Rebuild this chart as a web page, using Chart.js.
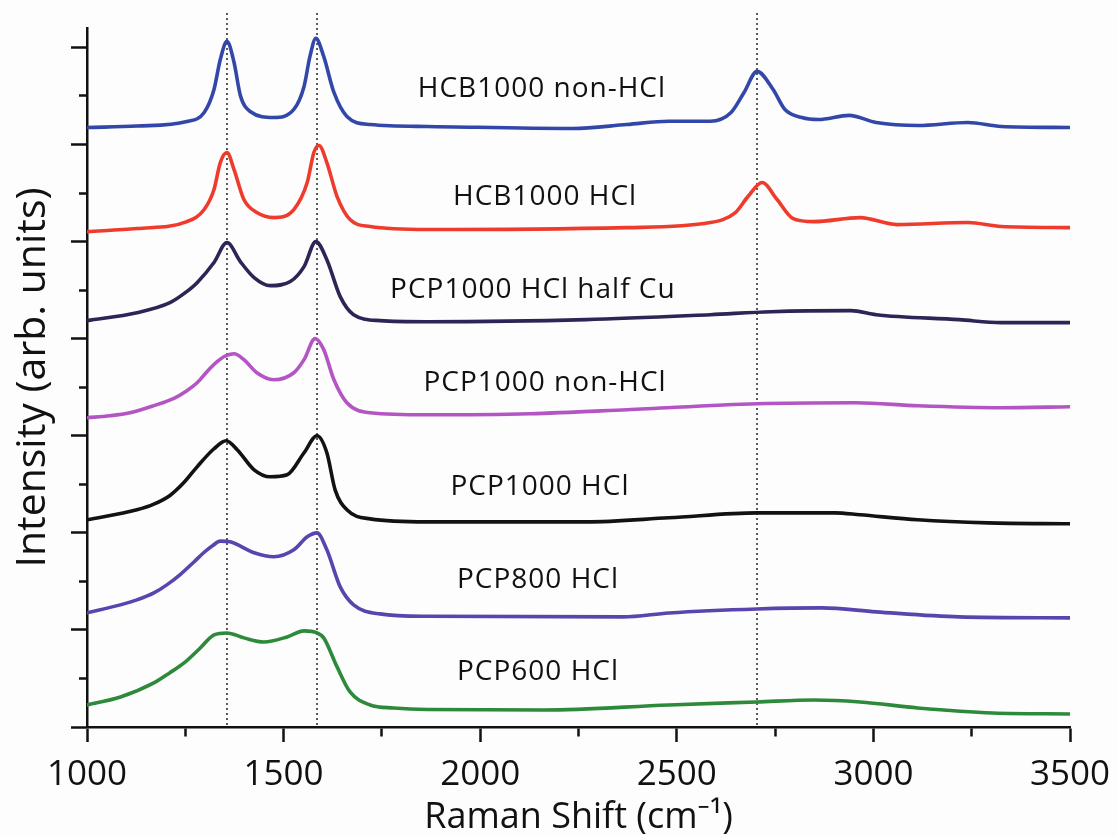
<!DOCTYPE html>
<html><head><meta charset="utf-8">
<script src="https://cdn.jsdelivr.net/npm/chart.js@4.4.1/dist/chart.umd.min.js"></script>
<style>html,body{margin:0;padding:0;background:#fdfdfd}#wrap{width:1117px;height:836px;position:relative}</style>
</head><body><div id="wrap"><canvas id="c"></canvas></div>
<script>
// ---- data (Raman shift in cm-1, intensity in arbitrary offset units) ----
const seriesNames = ['HCB1000 non-HCl','HCB1000 HCl','PCP1000 HCl half Cu','PCP1000 non-HCl','PCP1000 HCl','PCP800 HCl','PCP600 HCl'];
const seriesColors = ['#3347a8','#ef3b2c','#2c2556','#b356c3','#121212','#5a44ad','#2e8a3b'];

const hcbNonHclX = [1000,1127,1254,1298,1323,1339,1356,1374,1390,1415,1475,1526,1552,1567,1582,1602,1628,1661,1720,1865,2236,2373,2480,2585,2638,2671,2704,2745,2775,2818,2860,2938,3007,3113,3240,3325,3500];
const hcbNonHclY = [6.175,6.190,6.237,6.330,6.567,6.876,7.062,6.845,6.505,6.340,6.278,6.361,6.598,6.907,7.093,6.907,6.536,6.289,6.206,6.186,6.165,6.206,6.240,6.240,6.330,6.536,6.753,6.567,6.361,6.278,6.258,6.300,6.227,6.196,6.227,6.186,6.175];

const hcbHclX = [1000,1127,1254,1298,1323,1339,1356,1374,1399,1432,1475,1526,1560,1577,1590,1610,1636,1669,1720,1865,2373,2585,2649,2681,2717,2755,2796,2849,2966,3060,3240,3325,3500];
const hcbHclY = [5.103,5.134,5.206,5.330,5.536,5.814,5.918,5.742,5.433,5.299,5.247,5.330,5.608,5.918,5.990,5.814,5.464,5.227,5.155,5.124,5.144,5.196,5.299,5.464,5.608,5.433,5.237,5.206,5.247,5.175,5.196,5.155,5.144];

const pcpHalfCuX = [1000,1127,1211,1250,1280,1323,1356,1390,1425,1466,1517,1552,1582,1610,1644,1678,1745,1865,2269,2585,2740,2943,3007,3218,3325,3500];
const pcpHalfCuY = [4.186,4.268,4.371,4.474,4.577,4.784,4.990,4.794,4.629,4.546,4.588,4.742,5.000,4.814,4.433,4.247,4.186,4.175,4.196,4.247,4.278,4.289,4.247,4.196,4.165,4.165];

const pcpNonHclX = [1000,1058,1109,1170,1221,1254,1280,1305,1331,1348,1374,1399,1432,1475,1526,1552,1580,1602,1628,1661,1720,1865,2127,2373,2704,2955,3113,3325,3500];
const pcpNonHclY = [3.186,3.206,3.237,3.310,3.385,3.464,3.546,3.660,3.763,3.814,3.845,3.784,3.649,3.577,3.649,3.784,4.000,3.887,3.577,3.340,3.237,3.216,3.227,3.268,3.330,3.340,3.309,3.289,3.299];

const pcp1000HclX = [1000,1127,1170,1211,1247,1280,1323,1354,1382,1425,1466,1509,1552,1585,1610,1631,1661,1720,1865,2269,2480,2704,2902,2966,3113,3291,3500];
const pcp1000HclY = [2.134,2.237,2.295,2.385,2.520,2.680,2.866,2.948,2.856,2.649,2.577,2.598,2.825,3.000,2.825,2.443,2.237,2.144,2.113,2.113,2.155,2.206,2.206,2.186,2.134,2.103,2.093];

const pcp800HclX = [1000,1085,1127,1170,1203,1237,1272,1298,1320,1339,1364,1425,1475,1526,1560,1585,1610,1644,1678,1745,1865,2363,2480,2704,2869,3007,3218,3500];
const pcp800HclY = [1.175,1.258,1.309,1.381,1.464,1.570,1.700,1.800,1.870,1.915,1.907,1.794,1.753,1.825,1.959,2.000,1.825,1.443,1.258,1.165,1.140,1.134,1.175,1.216,1.227,1.186,1.134,1.124];

const pcp600HclX = [1000,1085,1170,1210,1247,1288,1323,1356,1399,1450,1509,1552,1585,1602,1636,1669,1720,1780,1865,2162,2480,2704,2849,2966,3113,3304,3500];
const pcp600HclY = [0.227,0.309,0.454,0.557,0.660,0.814,0.948,0.969,0.918,0.876,0.928,0.990,0.969,0.918,0.619,0.361,0.227,0.196,0.180,0.175,0.227,0.258,0.278,0.258,0.196,0.144,0.134];

const peakLinesX = [1356, 1585, 2704];      // dotted guide lines (cm-1)
const peakLineY = [0.02, 7.36];             // their vertical extent (intensity units)
const labelX = [2157, 2165, 2134, 2165, 2152, 2147, 2147];
const labelY = [6.567, 5.464, 4.505, 3.546, 2.474, 1.515, 0.567];

const xMin = 1000, xMax = 3500, xStep = 250, xLabelStep = 500;
const yMin = 0, yMax = 7.2, yStep = 0.5;

// ---- build ----
const xs = [hcbNonHclX,hcbHclX,pcpHalfCuX,pcpNonHclX,pcp1000HclX,pcp800HclX,pcp600HclX];
const ys = [hcbNonHclY,hcbHclY,pcpHalfCuY,pcpNonHclY,pcp1000HclY,pcp800HclY,pcp600HclY];
const FONT = "'Open Sans', 'Noto Sans', sans-serif";

const datasets = seriesNames.map((n, i) => ({
  label: n,
  data: xs[i].map((x, j) => ({x, y: ys[i][j]})),
  borderColor: seriesColors[i],
  borderWidth: 3.6,
  pointRadius: 0,
  cubicInterpolationMode: 'monotone',
  borderJoinStyle: 'round',
  borderCapStyle: 'round',
  fill: false
}));
peakLinesX.forEach(px => datasets.push({
  label: 'guide',
  data: peakLineY.map(y => ({x: px, y})),
  borderColor: '#333',
  borderWidth: 1.6,
  borderDash: [2, 3],
  pointRadius: 0,
  clip: false
}));

const labelPlugin = {
  id: 'seriesLabels',
  afterDatasetsDraw(chart) {
    const {ctx, scales: {x, y}} = chart;
    ctx.save();
    ctx.fillStyle = '#111';
    ctx.font = "28px " + FONT;
    ctx.textAlign = 'center';
    ctx.textBaseline = 'middle';
    try { ctx.letterSpacing = '1px'; } catch (e) {}
    seriesNames.forEach((n, i) => {
      ctx.fillText(n, x.getPixelForValue(labelX[i]), y.getPixelForValue(labelY[i]));
    });
    ctx.restore();
  }
};

new Chart(document.getElementById('c'), {
  type: 'line',
  data: {datasets},
  plugins: [labelPlugin],
  options: {
    responsive: true,
    maintainAspectRatio: false,
    animation: false,
    layout: {padding: {top: 28, right: 47, left: 0, bottom: 0}},
    plugins: {legend: {display: false}, tooltip: {enabled: false}},
    scales: {
      x: {
        type: 'linear', min: xMin, max: xMax,
        afterFit(s) { s.height = 109; s.paddingRight = 40; s.paddingLeft = 40; },
        border: {display: true, color: '#111', width: 2.5},
        grid: {
          drawOnChartArea: false, drawTicks: true, tickLength: 15,
          color: '#111', tickWidth: 2.5,
          tickBorderDash: ctx => (ctx.tick && ctx.tick.value % xLabelStep === 0) ? [] : [8, 100]
        },
        ticks: {
          stepSize: xStep, includeBounds: false, maxRotation: 0, autoSkip: false,
          color: '#111', font: {family: FONT, size: 35}, padding: 12,
          callback: v => (v % xLabelStep === 0) ? String(v) : ''
        },
        title: {display: true, text: 'Raman Shift (cm⁻¹)', color: '#111', font: {family: FONT, size: 36}, padding: {top: 0, bottom: -3}}
      },
      y: {
        type: 'linear', min: yMin, max: yMax,
        afterFit(s) { s.width = 87; },
        border: {display: true, color: '#111', width: 2.5},
        grid: {
          drawOnChartArea: false, drawTicks: true, tickLength: 16,
          color: '#111', tickWidth: 2.5,
          tickBorderDash: ctx => (ctx.tick && Math.abs(ctx.tick.value % 1) < 1e-6) ? [] : [0, 8, 8]
        },
        ticks: {stepSize: yStep, includeBounds: false, display: true, callback: () => '', font: {size: 1}},
        title: {display: true, text: 'Intensity (arb. units)', color: '#111', font: {family: FONT, size: 41}, padding: {top: 9, bottom: 0}}
      }
    }
  }
});
</script>
</body></html>
